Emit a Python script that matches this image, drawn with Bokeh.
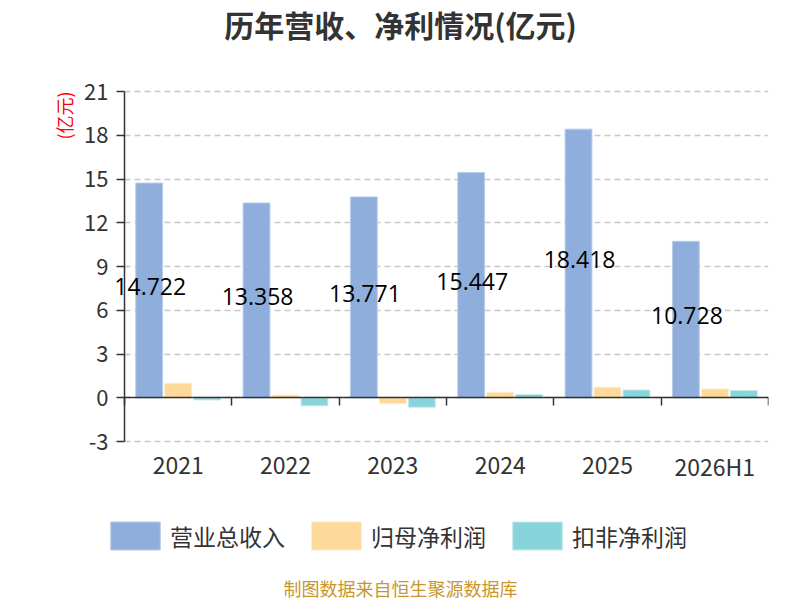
import numpy as np
from bokeh.plotting import figure
from bokeh.models import (ColumnDataSource, Range1d, LinearAxis, FixedTicker, Grid,
                          Legend, LegendItem, Label)
from bokeh.transform import dodge
from bokeh.core.properties import value
from bokeh.embed import file_html
from bokeh.resources import INLINE

# ---- data ----
categories = ["2021", "2022", "2023", "2024", "2025", "2026H1"]
revenue = [14.722, 13.358, 13.771, 15.447, 18.418, 10.728]
net_profit = [1.00, 0.18, -0.40, 0.37, 0.72, 0.60]
deducted_profit = [-0.15, -0.55, -0.65, 0.22, 0.53, 0.49]
y_ticks = [-3, 0, 3, 6, 9, 12, 15, 18, 21]
series_names = ["营业总收入", "归母净利润", "扣非净利润"]
colors = ["#8faedb", "#fdd99a", "#87d5da"]
title_text = "历年营收、净利情况(亿元)"
unit_text = "(亿元)"
source_text = "制图数据来自恒生聚源数据库"

CJK = "Noto Sans CJK SC"

# ---- layout (pixels) ----
W, H = 800, 600
FRAME_L, FRAME_R, FRAME_T, FRAME_B = 50, 768, 10, 600
AXIS_X_PX = 124          # where the value axis sits
Y_LO_PX, Y_HI_PX = 441, 91  # pixel rows of the lowest / highest tick

n = len(categories)
kx = (FRAME_R - AXIS_X_PX) / n
ky = (Y_LO_PX - Y_HI_PX) / (y_ticks[-1] - y_ticks[0])
x_lo = -(AXIS_X_PX - FRAME_L) / kx
y_hi = y_ticks[-1] + (Y_HI_PX - FRAME_T) / ky
y_lo = y_ticks[0] - (FRAME_B - Y_LO_PX) / ky
year_label_y = y_ticks[0] - (465 - Y_LO_PX) / ky

src = ColumnDataSource(dict(
    x=np.arange(n) + 0.5,
    cat=categories,
    cat_y=[year_label_y] * n,
    rev=revenue,
    rev_half=[v / 2 for v in revenue],
    rev_label=[f"{v:.3f}" for v in revenue],
    net=net_profit,
    ded=deducted_profit,
))

p = figure(width=W, height=H, output_backend="svg", toolbar_location=None,
           x_range=Range1d(x_lo, n), y_range=Range1d(y_lo, y_hi),
           x_axis_location=None, y_axis_location=None,
           min_border_left=FRAME_L, min_border_right=W - FRAME_R,
           min_border_top=FRAME_T, min_border_bottom=H - FRAME_B)
p.outline_line_color = None
p.background_fill_color = "white"
p.border_fill_color = "white"
for g in list(p.grid):
    g.visible = False

# dashed horizontal grid
grid = Grid(dimension=1, ticker=FixedTicker(ticks=y_ticks), grid_line_color="#c8c8c8",
            grid_line_dash="6 4", grid_line_width=1.3, bounds=(y_ticks[0], y_ticks[-1]))
if "cross_bounds" in Grid.properties():
    grid.cross_bounds = (0, n)
p.add_layout(grid)

bw = 0.25
off = 0.27
r1 = p.vbar(x=dodge("x", -off, range=p.x_range), top="rev", width=bw, source=src,
            fill_color=colors[0], line_color="#b9cdeb", line_width=1)
r2 = p.vbar(x=dodge("x", 0, range=p.x_range), top="net", width=bw, source=src,
            fill_color=colors[1], line_color="#feebc6", line_width=1)
r3 = p.vbar(x=dodge("x", off, range=p.x_range), top="ded", width=bw, source=src,
            fill_color=colors[2], line_color="#c2eaec", line_width=1)

# value labels inside the revenue bars
p.text(x=dodge("x", -off + 0.01, range=p.x_range), y="rev_half", text="rev_label", source=src,
       text_font=value("Open Sans"), text_font_size="23px", text_color="#000000",
       text_align="center", text_baseline="middle", y_offset=-4)

# category labels
p.text(x="x", y="cat_y", text="cat", source=src,
       text_font=value(CJK), text_font_size="23px", text_color="#333333",
       text_align="center", text_baseline="middle")

# value axis
yaxis = LinearAxis(ticker=FixedTicker(ticks=y_ticks), fixed_location=0,
                   bounds=(y_ticks[0], y_ticks[-1]),
                   major_label_overrides={-3: "-3"},
                   axis_line_color="#333333",
                   axis_line_width=1.5, major_tick_line_color="#333333", major_tick_line_width=1.5,
                   major_tick_out=8, major_tick_in=0, minor_tick_line_color=None,
                   major_label_text_font=CJK, major_label_text_font_size="22px",
                   major_label_text_color="#333333", major_label_standoff=8)
p.add_layout(yaxis, "left")

# category axis line at zero with boundary ticks (ticks point down into the frame)
bounds = list(range(n + 1))
zaxis = LinearAxis(ticker=FixedTicker(ticks=bounds), fixed_location=0, bounds=(0, n),
                   major_label_overrides={b: "" for b in bounds},
                   axis_line_color="#333333", axis_line_width=1.5,
                   major_tick_line_color="#333333", major_tick_line_width=1.5,
                   major_tick_out=0, major_tick_in=8, minor_tick_line_color=None,
                   major_label_text_color=None, major_label_text_font_size="1px",
                   major_label_standoff=0)
p.add_layout(zaxis, "above")

# texts (screen units measured from the frame's bottom-left corner)
p.add_layout(Label(x=400 - FRAME_L, y=FRAME_B - 23, x_units="screen", y_units="screen",
                   text=title_text, text_font=CJK, text_font_size="30px",
                   text_font_style="bold", text_color="#333333",
                   text_align="center", text_baseline="middle"))
p.add_layout(Label(x=63 - FRAME_L, y=FRAME_B - 115, x_units="screen", y_units="screen",
                   text=unit_text, angle=np.pi / 2, text_font=CJK, text_font_size="18px",
                   text_color="#ff0000", text_align="center", text_baseline="middle"))
p.add_layout(Label(x=400 - FRAME_L, y=FRAME_B - 587, x_units="screen", y_units="screen",
                   text=source_text, text_font=CJK, text_font_size="18px",
                   text_color="#c8962e", text_align="center", text_baseline="middle"))

# legend (Bokeh insets area glyphs by 10% of the glyph box)
legend = Legend(items=[LegendItem(label=series_names[0], renderers=[r1]),
                       LegendItem(label=series_names[1], renderers=[r2]),
                       LegendItem(label=series_names[2], renderers=[r3])],
                orientation="horizontal", location=(104 - FRAME_L, FRAME_B - 553),
                glyph_width=62, glyph_height=35, label_standoff=4, spacing=20,
                padding=0, margin=0, border_line_color=None, background_fill_alpha=0,
                label_text_font=CJK, label_text_font_size="23px", label_text_color="#333333",
                label_height=35)
p.add_layout(legend, "center")

open("out.html", "w").write(file_html(p, INLINE))
